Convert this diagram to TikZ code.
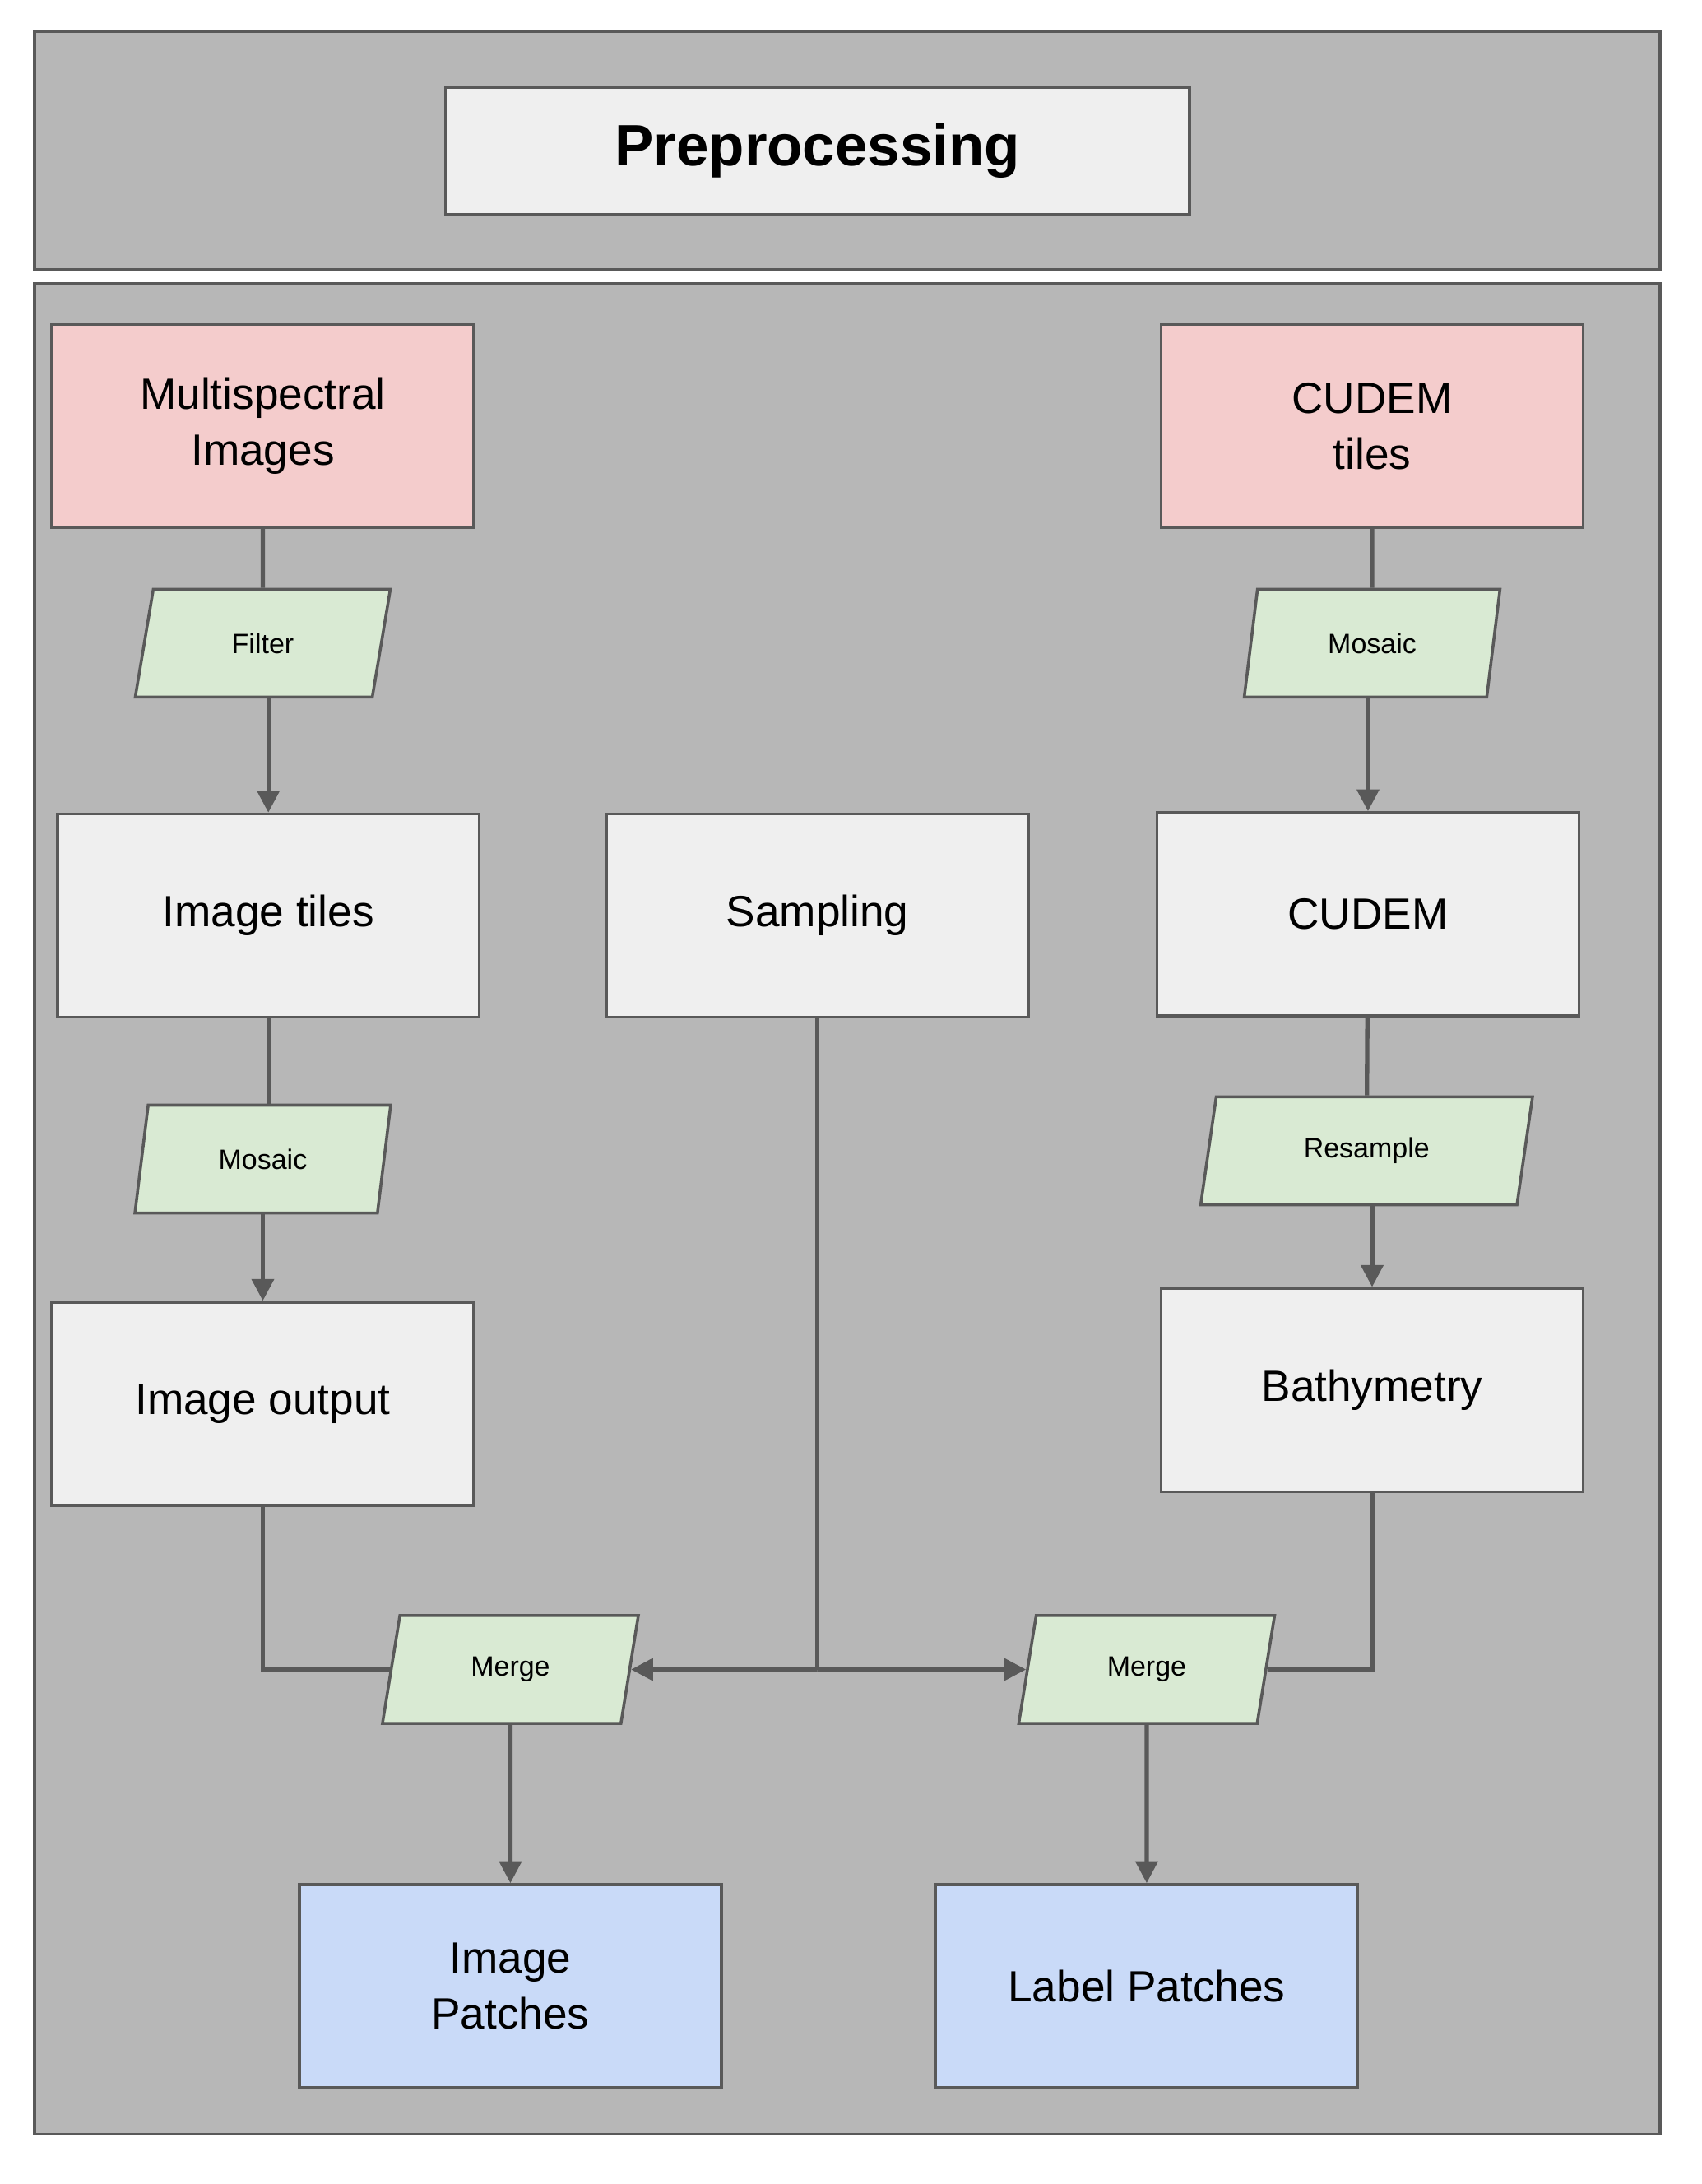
\documentclass[tikz,border=0pt]{standalone}
\usepackage{fontspec}
\setmainfont{Liberation Sans}
\usetikzlibrary{shapes.geometric,arrows.meta}
\definecolor{panel}{HTML}{B7B7B7}
\definecolor{edge}{HTML}{595959}
\definecolor{lgray}{HTML}{EFEFEF}
\definecolor{pink}{HTML}{F4CCCC}
\definecolor{green}{HTML}{D9EAD3}
\definecolor{blue}{HTML}{C9DAF8}
\begin{document}
\begin{tikzpicture}[x=0.02cm,y=-0.02cm,
  box/.style={draw=edge,line width=1.2pt,minimum width=6.1cm,minimum height=2.94cm,align=center,font=\fontsize{18}{23}\selectfont,inner sep=0pt},
  para/.style={draw=edge,line width=1.2pt,fill=green,trapezium,trapezium left angle=76,trapezium right angle=104,trapezium stretches=true,minimum width=3.7cm,minimum height=1.56cm,font=\fontsize{11.5}{13}\selectfont,inner sep=0pt},
  ln/.style={draw=edge,line width=1.8pt},
  ar/.style={ln,-{Triangle[length=9pt,width=9pt]}}]
\useasboundingbox (0,0) rectangle (1230,1579);
\fill[white] (0,0) rectangle (1230,1579);
\draw[edge,line width=1.2pt,fill=panel] (25,23) rectangle (1200,195);
\draw[edge,line width=1.2pt,fill=panel] (25,205) rectangle (1200,1543);
\node[box,fill=lgray,minimum width=10.76cm,minimum height=1.84cm,font=\fontsize{24}{28}\selectfont\bfseries] (title) at (591,109) {Preprocessing};
\node[box,fill=pink] (ms) at (190,308) {Multispectral\\Images};
\node[box,fill=pink] (ct) at (992,308) {CUDEM\\tiles};
\node[para] (filter) at (190,465) {Filter};
\node[para] (mos2) at (992,465) {Mosaic};
\node[box,fill=lgray] (it) at (194,662) {Image tiles};
\node[box,fill=lgray] (samp) at (591,662) {Sampling};
\node[box,fill=lgray] (cudem) at (989,661) {CUDEM};
\node[para] (mos1) at (190,838) {Mosaic};
\node[para,minimum width=4.8cm] (res) at (988,832) {Resample};
\node[box,fill=lgray] (io) at (190,1015) {Image output};
\node[box,fill=lgray] (bat) at (992,1005) {Bathymetry};
\node[para] (m1) at (369,1207) {Merge};
\node[para] (m2) at (829,1207) {Merge};
\node[box,fill=blue] (ip) at (369,1436) {Image\\Patches};
\node[box,fill=blue] (lp) at (829,1436) {Label Patches};
\coordinate (j) at (591,1207);
\draw[ln] (ms) -- (filter);
\draw[ar] (filter.south -| it.north) -- (it.north);
\draw[ln] (it) -- (it |- mos1.north);
\draw[ar] (mos1.south) -- (mos1.south |- io.north);
\draw[ln] (ct) -- (mos2);
\draw[ar] (cudem.north |- mos2.south) -- (cudem.north);
\draw[ln] (cudem) -- (res);
\draw[ar] (bat.north |- res.south) -- (bat.north);
\draw[ln] (io.south) |- (m1.west);
\draw[ln] (bat.south) |- (m2.east);
\draw[ln] (samp.south) -- (j);
\draw[ar] (j) -- (m1.east);
\draw[ar] (j) -- (m2.west);
\draw[ar] (m1.south) -- (ip.north);
\draw[ar] (m2.south) -- (lp.north);
\end{tikzpicture}
\end{document}
